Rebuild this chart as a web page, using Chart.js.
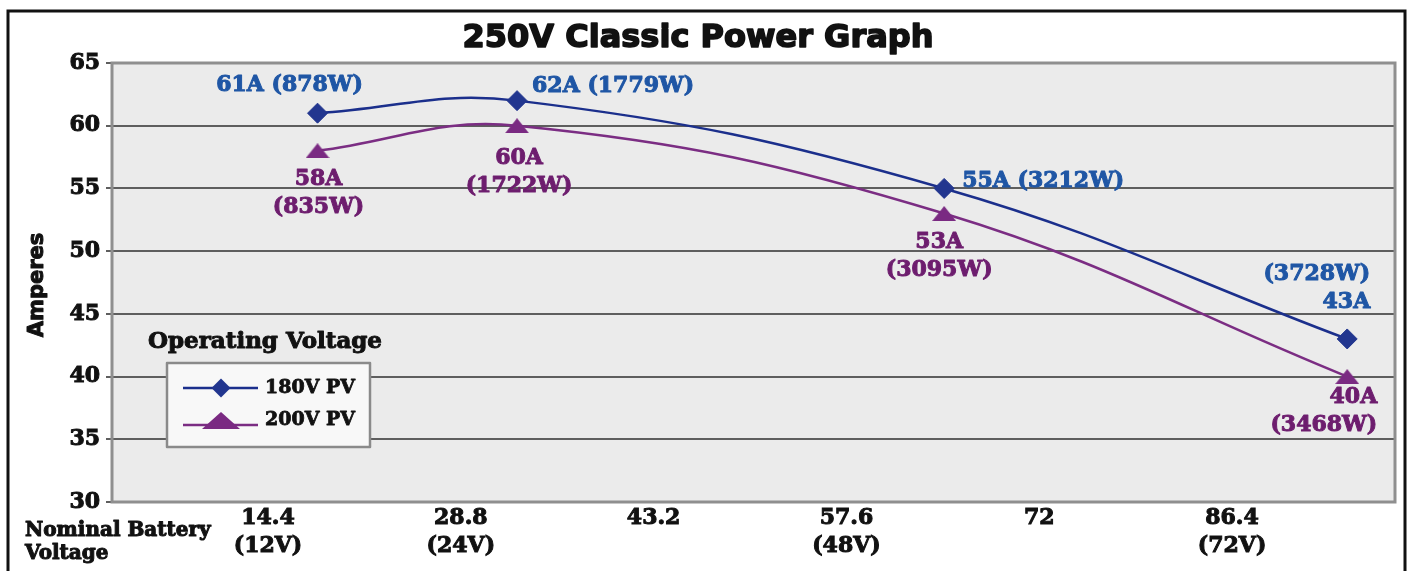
<!DOCTYPE html>
<html>
<head>
<meta charset="utf-8">
<script src="https://cdn.jsdelivr.net/npm/chart.js@4.4.1/dist/chart.umd.min.js"></script>
<style>
  html, body { margin: 0; padding: 0; background: #fff; }
</style>
</head>
<body>
<canvas id="powerChart" width="1411" height="571"></canvas>
<script>
// values
const batteryVolts = [18.1, 33.0, 64.9, 95.0];
const amps180 = [61, 62, 55, 43];
const amps200 = [58, 60, 53, 40];
const watts180 = [878, 1779, 3212, 3728];
const watts200 = [835, 1722, 3095, 3468];
const xTickValues = [14.4, 28.8, 43.2, 57.6, 72, 86.4];
const xTickLabels = [["14.4", "(12V)"], ["28.8", "(24V)"], ["43.2"], ["57.6", "(48V)"], ["72"], ["86.4", "(72V)"]];
const seriesNames = ["180V PV", "200V PV"];

const blueLine = "#1b2f8c", purpleLine = "#7b2d83";
const labelColors = ["#1f56a5", "#6d1d6e"];
const serif = "'DejaVu Serif', serif";

// where each value label sits relative to its point
const labelPlace = [
  [
    { mode: "inline", align: "center", dx: -28, dy: -28 },
    { mode: "inline", align: "left", dx: 15, dy: -14 },
    { mode: "inline", align: "left", dx: 18, dy: -7 },
    { mode: "wattsFirst", align: "right", dx: 23, dy: -65 },
  ],
  [
    { mode: "ampsFirst", align: "center", dx: 1, dy: 28 },
    { mode: "ampsFirst", align: "center", dx: 2, dy: 33 },
    { mode: "ampsFirst", align: "center", dx: -5, dy: 29 },
    { mode: "ampsFirst", align: "right", dx: 30, dy: 21 },
  ],
];

function makeTriangle(w, h, color) {
  const c = document.createElement("canvas");
  c.width = w;
  c.height = h;
  const g = c.getContext("2d");
  g.fillStyle = color;
  g.beginPath();
  g.moveTo(w / 2, 0);
  g.lineTo(w, h);
  g.lineTo(0, h);
  g.closePath();
  g.fill();
  return c;
}

function diamond(g, x, y, r, color) {
  g.fillStyle = color;
  g.beginPath();
  g.moveTo(x - r, y);
  g.lineTo(x, y - r);
  g.lineTo(x + r, y);
  g.lineTo(x, y + r);
  g.closePath();
  g.fill();
}

// heavier text: fill plus a thin stroke of the same colour
function boldText(g, text, x, y, stroke) {
  g.lineWidth = stroke;
  g.strokeStyle = g.fillStyle;
  g.lineJoin = "round";
  g.strokeText(text, x, y);
  g.fillText(text, x, y);
}

const triangleImg = makeTriangle(24, 15, "#7a2a82");

const frame = {
  id: "frame",
  beforeDraw(chart) {
    const g = chart.ctx;
    const a = chart.chartArea;
    g.save();
    g.fillStyle = "#fff";
    g.fillRect(0, 0, chart.width, chart.height);
    g.strokeStyle = "#111";
    g.lineWidth = 3;
    g.strokeRect(8, 11, 1397, 600);
    g.fillStyle = "#ebebeb";
    g.fillRect(a.left, a.top, a.right - a.left, a.bottom - a.top);

    g.fillStyle = "#111";
    g.textBaseline = "middle";
    g.textAlign = "center";
    g.font = "bold 32px 'DejaVu Sans', sans-serif";
    boldText(g, "250V Classic Power Graph", 698, 39, 1.6);

    g.font = "bold 20px " + serif;
    g.textAlign = "left";
    boldText(g, "Nominal Battery", 25, 531, 1);
    boldText(g, "Voltage", 25, 554, 1);

    g.translate(38, 285);
    g.rotate(-Math.PI / 2);
    g.textAlign = "center";
    g.font = "bold 21px 'DejaVu Sans', sans-serif";
    boldText(g, "Amperes", 0, 0, 1);
    g.restore();
  },
  beforeDatasetsDraw(chart) {
    const g = chart.ctx;
    const a = chart.chartArea;
    g.save();
    g.strokeStyle = "#8f8f8f";
    g.lineWidth = 3;
    g.strokeRect(a.left, a.top, a.right - a.left, a.bottom - a.top);

    // legend box
    g.fillStyle = "#111";
    g.textBaseline = "middle";
    g.font = "bold 23px " + serif;
    boldText(g, "Operating Voltage", 148, 342, 1);
    g.fillStyle = "#f8f8f8";
    g.fillRect(167, 363, 203, 84);
    g.strokeStyle = "#8a8a8a";
    g.lineWidth = 2.5;
    g.strokeRect(167, 363, 203, 84);

    g.lineWidth = 2.5;
    g.strokeStyle = blueLine;
    g.beginPath();
    g.moveTo(183, 388);
    g.lineTo(258, 388);
    g.stroke();
    diamond(g, 221, 388, 9.5, "#22368f");

    g.strokeStyle = purpleLine;
    g.beginPath();
    g.moveTo(183, 425);
    g.lineTo(258, 425);
    g.stroke();
    g.fillStyle = "#7a2a82";
    g.beginPath();
    g.moveTo(221, 412);
    g.lineTo(240, 429);
    g.lineTo(202, 429);
    g.closePath();
    g.fill();

    g.fillStyle = "#111";
    g.font = "bold 19px " + serif;
    boldText(g, seriesNames[0], 265, 388, 0.8);
    boldText(g, seriesNames[1], 265, 420, 0.8);
    g.restore();
  },
};

const valueLabels = {
  id: "valueLabels",
  afterDatasetsDraw(chart) {
    const g = chart.ctx;
    g.save();
    g.font = "bold 22px " + serif;
    g.textBaseline = "middle";
    [amps180, amps200].forEach((amps, s) => {
      const watts = s === 0 ? watts180 : watts200;
      chart.getDatasetMeta(s).data.forEach((pt, i) => {
        const p = labelPlace[s][i];
        const a = amps[i] + "A";
        const w = "(" + watts[i] + "W)";
        const lines = p.mode === "inline" ? [a + " " + w] : p.mode === "wattsFirst" ? [w, a] : [a, w];
        g.fillStyle = labelColors[s];
        g.textAlign = p.align;
        lines.forEach((t, k) => boldText(g, t, pt.x + p.dx, pt.y + p.dy + k * 28, 1));
      });
    });
    g.restore();
  },
};

const tickFont = { family: "DejaVu Serif", weight: "bold", size: 22, lineHeight: 1.25 };

new Chart(document.getElementById("powerChart"), {
  type: "line",
  data: {
    datasets: [
      {
        label: seriesNames[0],
        data: batteryVolts.map((x, i) => ({ x, y: amps180[i] })),
        borderColor: blueLine,
        borderWidth: 2.5,
        pointStyle: "rectRot",
        pointRadius: 10,
        pointBackgroundColor: "#22368f",
        pointBorderColor: "#22368f",
        pointBorderWidth: 1,
        tension: 0.4,
      },
      {
        label: seriesNames[1],
        data: batteryVolts.map((x, i) => ({ x, y: amps200[i] })),
        borderColor: purpleLine,
        borderWidth: 2.5,
        pointStyle: triangleImg,
        tension: 0.4,
      },
    ],
  },
  options: {
    responsive: false,
    animation: false,
    layout: { padding: { top: 63, right: 16, left: 0, bottom: 0 } },
    plugins: { legend: { display: false }, tooltip: { enabled: false } },
    scales: {
      x: {
        type: "linear",
        min: 2.75,
        max: 98.57,
        afterBuildTicks: (s) => {
          s.ticks = xTickValues.map((v) => ({ value: v }));
        },
        afterFit: (s) => {
          s.height = 69;
          s.paddingLeft = 0;
          s.paddingRight = 0;
        },
        ticks: {
          callback: (v, i) => xTickLabels[i],
          font: tickFont,
          color: "#111",
          textStrokeColor: "#111",
          textStrokeWidth: 1,
          padding: 3,
          maxRotation: 0,
          autoSkip: false,
        },
        grid: { display: false, drawTicks: false },
        border: { display: false },
      },
      y: {
        min: 30,
        max: 65,
        afterFit: (s) => {
          s.width = 112;
          s.paddingTop = 0;
          s.paddingBottom = 0;
        },
        ticks: {
          stepSize: 5,
          font: tickFont,
          color: "#111",
          textStrokeColor: "#111",
          textStrokeWidth: 1,
          padding: 6,
        },
        grid: { color: "#5e5e5e", lineWidth: 2, tickLength: 6 },
        border: { display: false },
      },
    },
  },
  plugins: [frame, valueLabels],
});
</script>
</body>
</html>
